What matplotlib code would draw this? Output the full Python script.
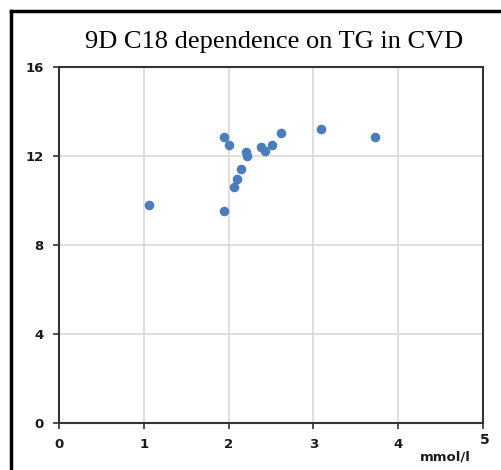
import matplotlib
matplotlib.use("Agg")
import matplotlib.pyplot as plt
from matplotlib.lines import Line2D

# TG (mmol/l) vs 9D C18
tg = [1.06, 1.94, 2.00, 1.94, 2.06, 2.10, 2.15, 2.21, 2.22, 2.38, 2.43, 2.51, 2.62, 3.09, 3.73]
c18 = [9.78, 12.87, 12.49, 9.54, 10.59, 10.95, 11.40, 12.19, 12.01, 12.42, 12.24, 12.49, 13.05, 13.21, 12.87]

x_ticks = [0, 1, 2, 3, 4, 5]
y_ticks = [0, 4, 8, 12, 16]

W, H = 501, 470
fig = plt.figure(figsize=(W / 100, H / 100), dpi=100)
ax = fig.add_axes([59 / W, 1 - 423 / H, (483 - 59) / W, (423 - 67) / H])

ax.scatter(tg, c18, s=48, color="#4a7ebb", zorder=3, linewidths=0)

ax.set_xlim(0, 5)
ax.set_ylim(0, 16)
ax.set_xticks(x_ticks)
ax.set_yticks(y_ticks)
ax.grid(True, color="#d9d9d9", linewidth=1.2)
ax.set_axisbelow(True)
for sp in ax.spines.values():
    sp.set_color("#333333")
    sp.set_linewidth(1.5)
ax.tick_params(length=4, width=1.2, color="#333333", labelsize=9.5, pad=7,
               labelcolor="#1a1a1a")
ax.set_xticklabels(["0", "1", "2", "3", "4", ""])
for lab in ax.get_xticklabels() + ax.get_yticklabels():
    lab.set_fontweight("semibold")
ax.text(5.02, -0.75, "5", fontsize=10, ha="center", va="center", color="#1a1a1a",
        fontweight="semibold", clip_on=False)
ax.text(4.56, -1.55, "mmol/l", fontsize=9.5, ha="center", va="center", color="#1a1a1a",
        fontweight="semibold", clip_on=False)

fig.text(274 / W, 1 - 42 / H, "9D C18 dependence on TG in CVD",
         fontsize=19, family="Liberation Serif", ha="center", va="center")

# outer frame (left and top edges only)
fig.add_artist(Line2D([11 / W, 11 / W], [0, 1 - 11 / H], transform=fig.transFigure,
                      color="black", linewidth=2.5))
fig.add_artist(Line2D([11 / W, 1], [1 - 11 / H, 1 - 11 / H], transform=fig.transFigure,
                      color="black", linewidth=2.5))

fig.savefig("out.png", dpi=100)
